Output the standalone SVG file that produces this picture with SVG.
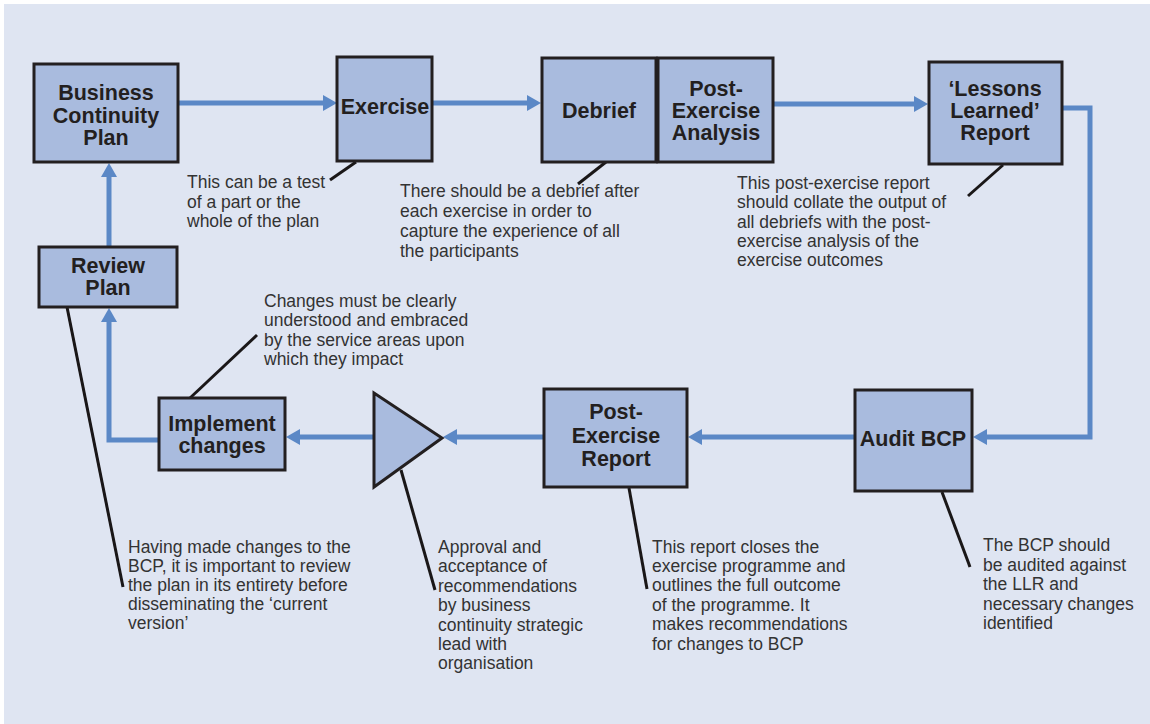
<svg xmlns="http://www.w3.org/2000/svg" width="1150" height="724" viewBox="0 0 1150 724">
<defs>
<style>
.box{fill:#a9bbde;stroke:#231f20;stroke-width:3}
.lbl{font-family:"Liberation Sans",Arial,sans-serif;font-weight:bold;font-size:21.5px;fill:#231f20;text-anchor:middle}
.note{font-family:"Liberation Sans",Arial,sans-serif;font-size:17.5px;fill:#333333}
.flow{fill:none;stroke:#5b88c6;stroke-width:5;stroke-linejoin:miter;marker-end:url(#ah)}
.call{fill:none;stroke:#1a1718;stroke-width:3}
</style>
<marker id="ah" markerUnits="userSpaceOnUse" markerWidth="14" markerHeight="16" refX="0" refY="8" orient="auto" overflow="visible">
<path d="M0,0 L14,8 L0,16 z" fill="#5b88c6"/>
</marker>
</defs>
<rect x="0" y="0" width="1150" height="724" fill="#ffffff"/>
<rect x="4" y="4" width="1146" height="720" fill="#dfe5f2"/>

<g id="connectors">
<path class="flow" d="M178,103 H323"/>
<path class="flow" d="M432,103 H527"/>
<path class="flow" d="M773,104 H914"/>
<path class="flow" d="M1062,108 H1090 V437 H987"/>
<path class="flow" d="M855,437 H702"/>
<path class="flow" d="M544,437 H457"/>
<path class="flow" d="M374,437 H300"/>
<path class="flow" d="M159,440 H109 V322"/>
<path class="flow" d="M109,247 V177"/>
<path class="call" d="M356,162 L330,180"/>
<path class="call" d="M606,162 L578,184"/>
<path class="call" d="M1003,165 L968,196"/>
<path class="call" d="M190,398 L257,335"/>
<path class="call" d="M67,307 L123,587"/>
<path class="call" d="M401,470 L435,590"/>
<path class="call" d="M629,488 L647,589"/>
<path class="call" d="M942,492 L970,567"/>
</g>

<g id="bcp">
<rect class="box" x="34" y="64" width="144" height="98"/>
<text class="lbl" x="106" y="100">Business</text>
<text class="lbl" x="106" y="123">Continuity</text>
<text class="lbl" x="106" y="145">Plan</text>
</g>
<g id="exercise">
<rect class="box" x="337" y="57" width="95" height="104"/>
<text class="lbl" x="385" y="114">Exercise</text>
</g>
<g id="debrief">
<rect class="box" x="542" y="58" width="114" height="104"/>
<text class="lbl" x="599" y="118">Debrief</text>
</g>
<g id="pea">
<rect class="box" x="658" y="58" width="115" height="104"/>
<text class="lbl" x="716" y="96">Post-</text>
<text class="lbl" x="716" y="118">Exercise</text>
<text class="lbl" x="716" y="140">Analysis</text>
</g>
<g id="llr">
<rect class="box" x="929" y="62" width="133" height="102"/>
<text class="lbl" x="995" y="96">‘Lessons</text>
<text class="lbl" x="995" y="118">Learned’</text>
<text class="lbl" x="995" y="140">Report</text>
</g>
<g id="review">
<rect class="box" x="39" y="247" width="138" height="60"/>
<text class="lbl" x="108" y="273">Review</text>
<text class="lbl" x="108" y="295">Plan</text>
</g>
<g id="implement">
<rect class="box" x="159" y="398" width="126" height="72"/>
<text class="lbl" x="222" y="431">Implement</text>
<text class="lbl" x="222" y="453">changes</text>
</g>
<g id="approval">
<path class="box" d="M374,393 L374,487 L442,438 z"/>
</g>
<g id="per">
<rect class="box" x="544" y="389" width="143" height="98"/>
<text class="lbl" x="616" y="419">Post-</text>
<text class="lbl" x="616" y="443">Exercise</text>
<text class="lbl" x="616" y="466">Report</text>
</g>
<g id="audit">
<rect class="box" x="855" y="390" width="117" height="101"/>
<text class="lbl" x="913" y="446">Audit BCP</text>
</g>

<g id="notes">
<text class="note" x="187" y="188">This can be a test</text>
<text class="note" x="187" y="208">of a part or the</text>
<text class="note" x="187" y="227">whole of the plan</text>

<text class="note" x="400" y="197">There should be a debrief after</text>
<text class="note" x="400" y="217">each exercise in order to</text>
<text class="note" x="400" y="237">capture the experience of all</text>
<text class="note" x="400" y="257">the participants</text>

<text class="note" x="737" y="189">This post-exercise report</text>
<text class="note" x="737" y="208">should collate the output of</text>
<text class="note" x="737" y="228">all debriefs with the post-</text>
<text class="note" x="737" y="247">exercise analysis of the</text>
<text class="note" x="737" y="266">exercise outcomes</text>

<text class="note" x="264" y="307">Changes must be clearly</text>
<text class="note" x="264" y="326">understood and embraced</text>
<text class="note" x="264" y="346">by the service areas upon</text>
<text class="note" x="264" y="365">which they impact</text>

<text class="note" x="128" y="553">Having made changes to the</text>
<text class="note" x="128" y="572">BCP, it is important to review</text>
<text class="note" x="128" y="591">the plan in its entirety before</text>
<text class="note" x="128" y="610">disseminating the ‘current</text>
<text class="note" x="128" y="629">version’</text>

<text class="note" x="438" y="553">Approval and</text>
<text class="note" x="438" y="572">acceptance of</text>
<text class="note" x="438" y="592">recommendations</text>
<text class="note" x="438" y="611">by business</text>
<text class="note" x="438" y="631">continuity strategic</text>
<text class="note" x="438" y="650">lead with</text>
<text class="note" x="438" y="669">organisation</text>

<text class="note" x="652" y="553">This report closes the</text>
<text class="note" x="652" y="572">exercise programme and</text>
<text class="note" x="652" y="591">outlines the full outcome</text>
<text class="note" x="652" y="611">of the programme. It</text>
<text class="note" x="652" y="630">makes recommendations</text>
<text class="note" x="652" y="650">for changes to BCP</text>

<text class="note" x="983" y="551">The BCP should</text>
<text class="note" x="983" y="571">be audited against</text>
<text class="note" x="983" y="590">the LLR and</text>
<text class="note" x="983" y="610">necessary changes</text>
<text class="note" x="983" y="629">identified</text>
</g>
</svg>
